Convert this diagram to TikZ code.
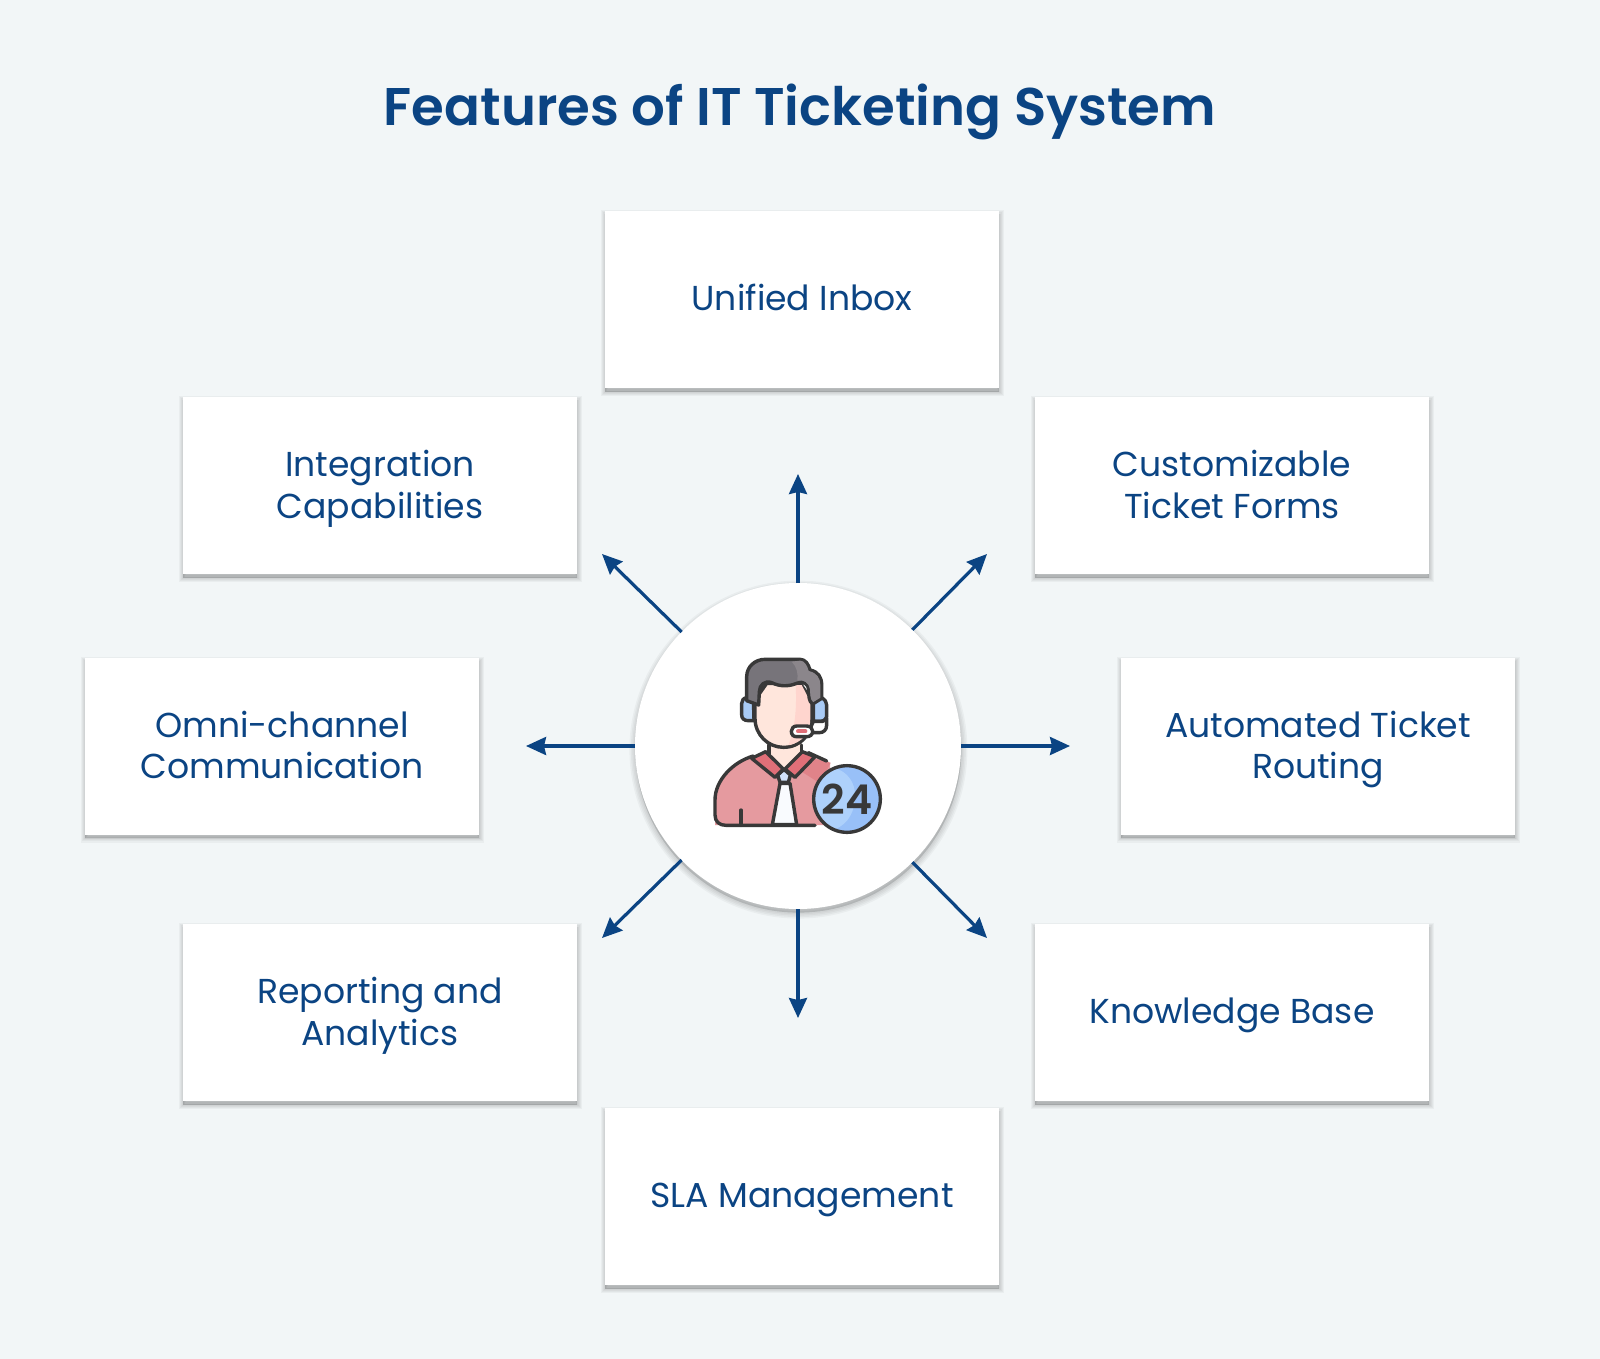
\documentclass[tikz,border=0pt]{standalone}
\usepackage{fontspec}
\setmainfont{Poppins}[BoldFont={Poppins SemiBold}]
\usetikzlibrary{arrows.meta, positioning}
\definecolor{pagebg}{HTML}{F2F6F7}
\definecolor{itnavy}{HTML}{0B4483}
\definecolor{iconline}{HTML}{383838}
\definecolor{hairgray}{HTML}{77747A}
\definecolor{hairlight}{HTML}{8B868B}
\definecolor{skinlight}{HTML}{FFE6DC}
\definecolor{skinshade}{HTML}{FFD5CE}
\definecolor{shirtpink}{HTML}{E59A9F}
\definecolor{shirtdark}{HTML}{E08389}
\definecolor{collarred}{HTML}{E06F78}
\definecolor{phoneblue}{HTML}{A9CBF5}
\definecolor{badgedark}{HTML}{98C0F8}
\definecolor{badgelight}{HTML}{AED1FB}
\newcommand{\boxstrut}{\rule[-5.1pt]{0pt}{20.7pt}}

\begin{document}
\begin{tikzpicture}[
    x=0.5pt, y=-0.5pt,
    softshade/.style={preaction={draw=black, draw opacity=0.035, fill=black, fill opacity=0.035, line width=#1,
      transform canvas={xshift=0.2pt, yshift=-1.8pt}}},
    boxnode/.style={fill=white, minimum width=197pt, minimum height=88.5pt, align=center, outer sep=0pt,
      text=itnavy, font=\fontsize{17.3}{20.7}\selectfont,
      execute at end node=\boxstrut,
      softshade=4.4pt, softshade=3.3pt, softshade=2.2pt, softshade=1.1pt, softshade=0.3pt},
    twoline/.style={execute at begin node=\rule{0pt}{19.4pt}, text depth=1.1pt},
    hubnode/.style={circle, fill=white, minimum size=163pt, outer sep=0pt, inner sep=0pt,
      softshade=6pt, softshade=4.5pt, softshade=3pt, softshade=1.5pt},
    arr/.style={-{Stealth[length=10pt, width=9pt, inset=1pt]}, draw=itnavy, line width=1.6pt},
    ico/.style={draw=iconline, line width=1.7pt, line join=round, line cap=round}
  ]
    \useasboundingbox (0,0) rectangle (1600,1359);
    \fill[pagebg] (0,0) rectangle (1600,1359);

    \node[text=itnavy, font=\fontsize{26.5}{32}\selectfont\bfseries] (title) at (800,112) {Features of IT Ticketing System};

    \node[hubnode] (hub) at (798,746) {};

    \node[boxnode, above=97.5pt of hub, xshift=2pt] (inbox) {Unified Inbox};
    \node[boxnode, below=99.5pt of hub, xshift=2pt] (sla) {SLA Management};
    \node[boxnode, twoline, below right=4.5pt and 18pt of inbox] (forms) {Customizable\\Ticket Forms};
    \node[boxnode, twoline, below left=4.5pt and 14pt of inbox] (integ) {Integration\\Capabilities};
    \node[boxnode, twoline, right=80pt of hub] (routing) {Automated Ticket\\Routing};
    \node[boxnode, twoline, left=78pt of hub] (omni) {Omni-channel\\Communication};
    \node[boxnode, above right=3.5pt and 18pt of sla] (kbase) {Knowledge Base};
    \node[boxnode, twoline, above left=3.5pt and 14pt of sla] (report) {Reporting and\\Analytics};

    \coordinate (tipn) at (798,474);
    \coordinate (tipne) at (987,554);
    \coordinate (tipe) at (1070,746);
    \coordinate (tipse) at (987,938);
    \coordinate (tips) at (798,1018);
    \coordinate (tipsw) at (602,938);
    \coordinate (tipw) at (526,746);
    \coordinate (tipnw) at (602,554);

    \draw[arr] (hub) -- (tipn);
    \draw[arr] (hub) -- (tipne);
    \draw[arr] (hub) -- (tipe);
    \draw[arr] (hub) -- (tipse);
    \draw[arr] (hub) -- (tips);
    \draw[arr] (hub) -- (tipsw);
    \draw[arr] (hub) -- (tipw);
    \draw[arr] (hub) -- (tipnw);

    % agent icon, coordinates read off a 3x crop
    \begin{scope}[shift={(620,570)}, x=0.16667pt, y=-0.16667pt]
      % body
      \fill[shirtpink] (285,765) -- (285,690) .. controls (285,630) and (340,575) .. (400,558) -- (480,625) -- (560,555) -- (630,580) -- (640,765) -- cycle;
      \fill[shirtdark] (545,605) -- (575,565) -- (632,578) -- (600,640) -- cycle;
      \draw[ico] (585,766) -- (318,766) .. controls (298,766) and (285,755) .. (285,735) -- (285,690) .. controls (285,630) and (340,575) .. (400,558);
      \draw[ico] (363,720) -- (363,766);
      \draw[ico] (565,548) -- (620,573);
      % neck
      \fill[skinlight] (447,520) -- (545,520) -- (545,560) -- (492,600) -- (447,560) -- cycle;
      \draw[ico] (447,525) -- (447,555);
      \draw[ico] (545,525) -- (545,550);
      % headset pads
      \draw[ico, fill=phoneblue] (400,383) -- (382,383) .. controls (370,383) and (365,392) .. (365,400) -- (365,435) .. controls (365,445) and (372,452) .. (385,452) -- (402,452) -- cycle;
      \draw[ico, fill=phoneblue] (580,395) -- (605,383) .. controls (615,390) and (620,395) .. (620,405) -- (620,440) .. controls (620,448) and (612,454) .. (600,454) -- (580,454) -- cycle;
      \draw[ico, fill=white] (620,445) -- (620,465) .. controls (620,480) and (610,488) .. (598,488) -- (565,488) -- (580,454) -- (608,454) -- cycle;
      % face
      \draw[ico, fill=skinlight] (405,390) -- (405,445) .. controls (405,495) and (445,532) .. (490,532) .. controls (540,532) and (575,495) .. (575,445) -- (575,390) -- (540,340) -- (440,340) -- cycle;
      \fill[skinshade] (527,345) .. controls (530,400) and (528,470) .. (505,526) .. controls (545,518) and (571,490) .. (571,445) -- (571,395) -- (545,345) -- cycle;
      % hair
      \draw[ico, fill=hairgray] (380,392) -- (380,320) .. controls (380,290) and (405,268) .. (435,268) -- (540,268) .. controls (556,268) and (565,282) .. (570,300) .. controls (595,305) and (605,322) .. (605,345) -- (605,385) -- (578,402) .. controls (566,395) and (566,375) .. (566,360) .. controls (566,342) and (550,332) .. (530,340) .. controls (505,350) and (480,350) .. (455,338) .. controls (435,330) and (418,345) .. (418,365) -- (416,405) -- cycle;
      \fill[hairlight] (515,275) -- (540,272) .. controls (553,272) and (561,285) .. (566,303) .. controls (590,308) and (601,325) .. (601,345) -- (601,383) -- (580,396) .. controls (570,390) and (571,370) .. (570,358) .. controls (568,340) and (550,325) .. (532,332) .. controls (535,310) and (530,290) .. (515,275) -- cycle;
      % mic
      \draw[ico, fill=white] (530,468) -- (560,468) .. controls (572,468) and (578,476) .. (578,484) .. controls (578,494) and (570,500) .. (560,500) -- (530,500) .. controls (520,500) and (514,494) .. (514,484) .. controls (514,476) and (520,468) .. (530,468) -- cycle;
      \draw[collarred, line width=2pt, line cap=round] (534,484) -- (556,484);
      % tie and collar
      \draw[ico, fill=white!93!phoneblue] (480,640) -- (510,640) -- (530,764) -- (457,764) -- cycle;
      \draw[ico, fill=phoneblue!55!white] (473,615) -- (492,598) -- (511,615) -- (505,637) -- (480,637) -- cycle;
      \draw[ico, fill=collarred] (395,565) -- (437,545) -- (490,597) -- (465,622) -- cycle;
      \draw[ico, fill=collarred] (495,597) -- (547,545) -- (585,560) -- (525,622) -- cycle;
      % badge
      \fill[badgedark] (681,687) circle[radius=100];
      \fill[badgelight] (640,592) .. controls (600,610) and (585,650) .. (585,687) .. controls (585,730) and (615,770) .. (640,780) .. controls (690,760) and (705,720) .. (705,675) .. controls (705,640) and (685,605) .. (640,592) -- cycle;
      \draw[ico] (681,687) circle[radius=100];
      \node[text=iconline, font=\fontsize{20.5}{21}\selectfont\bfseries] (badge) at (681,688) {24};
    \end{scope}
  \end{tikzpicture}
\end{document}
